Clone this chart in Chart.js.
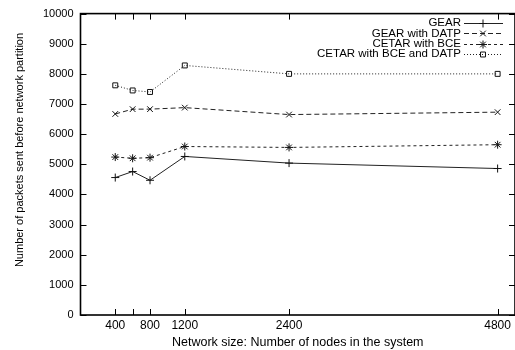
<!DOCTYPE html>
<html>
<head>
<meta charset="utf-8">
<script src="https://cdn.jsdelivr.net/npm/chart.js@4"></script>
<style>
html,body{margin:0;padding:0;background:#fff;overflow:hidden;width:515px;height:350px;}
#wrap{width:520px;height:350px;position:relative;}
</style>
</head>
<body>
<div id="wrap"><canvas id="c" width="520" height="350"></canvas></div>
<script>
const networkSizes = [400, 600, 800, 1200, 2400, 4800];
const xTickLabels = ['400', '', '800', '1200', '2400', '4800'];
const gear = [4560, 4760, 4470, 5260, 5040, 4860];
const gearDatp = [6670, 6830, 6830, 6880, 6650, 6730];
const cetarBce = [5240, 5200, 5220, 5590, 5560, 5650];
const cetarBceDatp = [7620, 7450, 7400, 8280, 8000, 8000];
const seriesNames = ['GEAR', 'GEAR with DATP', 'CETAR with BCE', 'CETAR with BCE and DATP'];
const yTitle = 'Number of packets sent before network partition';
const xTitle = 'Network size: Number of nodes in the system';
const yMin = 0, yMax = 10000, yStep = 1000;
const xMin = 0, xMax = 5000;

const FONT = '"Liberation Sans", Arial, Helvetica, sans-serif';
const toPts = arr => arr.map((v, i) => ({x: networkSizes[i], y: v}));

const styles = [
  {dash: [], pt: 'cross'},
  {dash: [5, 3], pt: 'crossRot'},
  {dash: [3, 3], pt: 'star'},
  {dash: [1, 2], pt: 'rect'}
];
const seriesData = [gear, gearDatp, cetarBce, cetarBceDatp];

const datasets = seriesData.map((d, i) => ({
  label: seriesNames[i],
  data: toPts(d),
  borderColor: '#222',
  backgroundColor: 'rgba(0,0,0,0)',
  borderWidth: 1,
  borderDash: styles[i].dash,
  pointStyle: styles[i].pt,
  pointRadius: i === 3 ? 3.5 : 4,
  pointBorderColor: '#111',
  pointBorderWidth: 1,
  pointBackgroundColor: 'rgba(0,0,0,0)',
  tension: 0,
  fill: false
}));

const framePlugin = {
  id: 'frame',
  afterDraw(chart) {
    const ctx = chart.ctx;
    const a = chart.chartArea;
    const xs = chart.scales.x, ys = chart.scales.y;
    ctx.save();
    ctx.strokeStyle = '#000';
    ctx.lineWidth = 1.6;
    ctx.setLineDash([]);
    ctx.strokeRect(a.left, a.top, a.right - a.left, a.bottom - a.top);
    ctx.lineWidth = 1;
    const tl = 6;
    for (let v = yMin; v <= yMax; v += yStep) {
      const y = Math.round(ys.getPixelForValue(v)) + 0.5;
      ctx.beginPath();
      ctx.moveTo(a.left, y); ctx.lineTo(a.left + tl, y);
      ctx.moveTo(a.right, y); ctx.lineTo(a.right - tl, y);
      ctx.stroke();
    }
    networkSizes.forEach(v => {
      const x = Math.round(xs.getPixelForValue(v)) + 0.5;
      ctx.beginPath();
      ctx.moveTo(x, a.bottom); ctx.lineTo(x, a.bottom - tl);
      ctx.moveTo(x, a.top); ctx.lineTo(x, a.top + tl);
      ctx.stroke();
    });
    // y title
    ctx.save();
    ctx.translate(20, 150);
    ctx.rotate(-Math.PI / 2);
    ctx.font = '11px ' + FONT;
    ctx.fillStyle = '#000';
    ctx.textAlign = 'center';
    ctx.textBaseline = 'middle';
    ctx.fillText(yTitle, 0, 0);
    ctx.restore();
    // legend
    ctx.font = '11.5px ' + FONT;
    ctx.fillStyle = '#000';
    ctx.textAlign = 'right';
    ctx.textBaseline = 'middle';
    chart.data.datasets.forEach((ds, i) => {
      const y = 23.3 + i * 10.1;
      ctx.fillText(ds.label, 461, y);
      const ly = Math.round(y) + 0.5;
      ctx.strokeStyle = '#222';
      ctx.lineWidth = 1;
      ctx.setLineDash(ds.borderDash);
      ctx.beginPath();
      ctx.moveTo(464, ly); ctx.lineTo(503, ly);
      ctx.stroke();
      ctx.setLineDash([]);
      ctx.strokeStyle = '#111';
      ctx.fillStyle = 'rgba(0,0,0,0)';
      Chart.helpers.drawPoint(ctx, {pointStyle: ds.pointStyle, radius: ds.pointRadius, rotation: 0, borderWidth: 1}, 483, ly);
      ctx.fillStyle = '#000';
    });
    ctx.restore();
  }
};

new Chart(document.getElementById('c'), {
  type: 'line',
  data: {datasets},
  plugins: [framePlugin],
  options: {
    responsive: false,
    animation: false,
    layout: {padding: {top: 11, right: 2, left: 0, bottom: 0}},
    plugins: {legend: {display: false}, tooltip: {enabled: false}},
    scales: {
      x: {
        type: 'linear',
        min: xMin, max: xMax,
        afterBuildTicks(scale) { scale.ticks = networkSizes.map(v => ({value: v})); },
        afterFit(scale) { scale.height = 35; },
        ticks: {
          autoSkip: false, maxRotation: 0, padding: 3,
          color: '#000', font: {family: FONT, size: 12},
          callback: (v) => { const i = networkSizes.indexOf(v); return i >= 0 ? xTickLabels[i] : ''; }
        },
        grid: {display: false, drawTicks: false},
        border: {display: false},
        title: {display: true, text: xTitle, color: '#000', font: {family: FONT, size: 12.5}, padding: {top: 0, bottom: 0}}
      },
      y: {
        type: 'linear',
        min: yMin, max: yMax,
        afterFit(scale) { scale.width = 80.5; },
        ticks: {stepSize: yStep, padding: 7, color: '#000', font: {family: FONT, size: 11}, callback: (v) => String(v)},
        grid: {display: false, drawTicks: false},
        border: {display: false},
        title: {display: false}
      }
    }
  }
});
</script>
</body>
</html>
